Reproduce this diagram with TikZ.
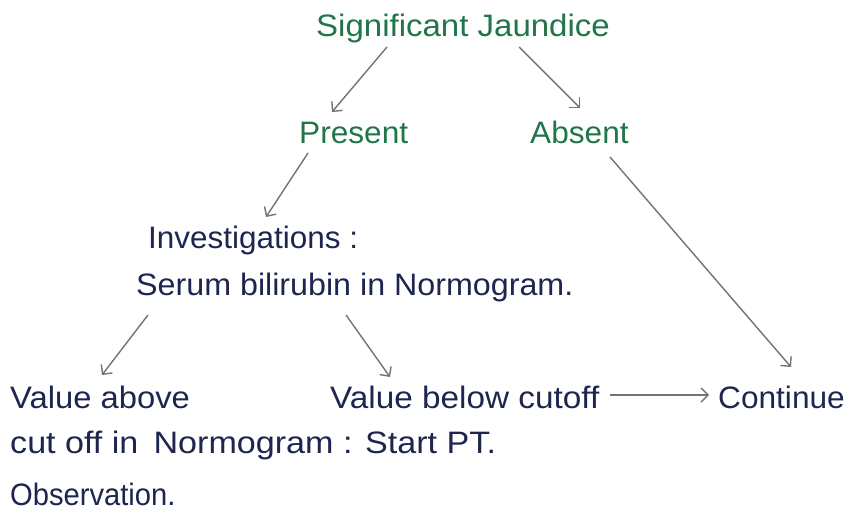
\documentclass[tikz,border=0pt]{standalone}
\usepackage{fontspec}
\setmainfont{Liberation Sans}
\usetikzlibrary{arrows.meta,calc}
\definecolor{hgreen}{RGB}{32,118,72}
\definecolor{hnavy}{RGB}{30,38,80}
\definecolor{hgray}{RGB}{115,115,115}
\newcommand{\hx}[2]{\scalebox{#1}[1]{#2}}
\begin{document}
\begin{tikzpicture}[x=1pt,y=-1pt,
  txt/.style={inner sep=0pt,anchor=base west,font=\fontsize{31}{36}\selectfont},
  gtxt/.style={txt,text=hgreen},
  ntxt/.style={txt,text=hnavy},
  arr/.style={draw=hgray,line width=1.4pt,-{Straight Barb[length=7pt,width=14pt,line width=1.4pt]}}]
\useasboundingbox (0,0) rectangle (850,516);
\fill[white] (0,0) rectangle (850,516);
\node[gtxt] (sj) at (316,37) {\hx{1.065}{Significant Jaundice}};
\node[gtxt] (pres) at (299,143) {\hx{1.02}{Present}};
\node[gtxt] (abs) at (530,143) {\hx{1.02}{Absent}};
\node[ntxt] (inv) at (148,248) {\hx{1.015}{Investigations :}};
\node[ntxt] (ser) at (136,295) {\hx{1.04}{Serum bilirubin in Normogram.}};
\node[ntxt] (va) at (10,408) {\hx{1.057}{Value above}};
\node[ntxt] (vb) at (330,408) {\hx{1.075}{Value below cutoff}};
\node[ntxt] (cont) at (718,408) {\hx{1.02}{Continue}};
\node[ntxt] (co) at (10,453) {\hx{1.1}{cut off in\, Normogram : Start PT.}};
\node[ntxt] (obs) at (10,505) {\hx{0.94}{Observation.}};
\draw[arr] ($(sj.base west)+(71,10)$) -- ($(pres.base west)+(33,-31)$);
\draw[arr] ($(sj.base west)+(203,10)$) -- ($(abs.base west)+(50,-35)$);
\draw[arr] ($(pres.base west)+(9,10)$) -- ($(inv.base west)+(118,-31)$);
\draw[arr] ($(abs.base west)+(80,14)$) -- ($(cont.base west)+(73,-41)$);
\draw[arr] ($(ser.base west)+(12,20)$) -- ($(va.base west)+(92,-33)$);
\draw[arr] ($(ser.base west)+(210,20)$) -- ($(vb.base west)+(60,-31)$);
\draw[arr] ($(vb.base west)+(280,-13)$) -- ($(cont.base west)+(-9,-13)$);
\end{tikzpicture}
\end{document}
